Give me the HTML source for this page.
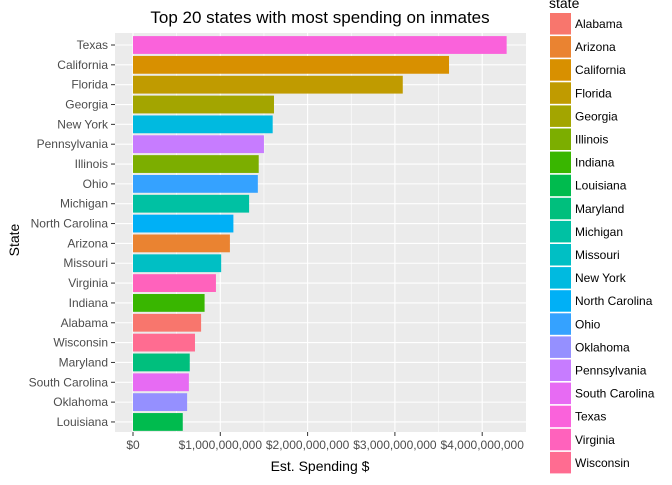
<!DOCTYPE html>
<html><head><meta charset="utf-8"><style>
body{margin:0;background:#fff;font-family:"Liberation Sans",Arial,sans-serif}
</style></head><body>
<svg id="chart" width="672" height="480" xmlns="http://www.w3.org/2000/svg" font-family="Liberation Sans, Arial, sans-serif">
<text x="320" y="23" text-anchor="middle" font-size="17" fill="#000">Top 20 states with most spending on inmates</text>
<rect x="115" y="33" width="411" height="399" fill="#ebebeb"/>
<g id="grid"></g><g id="bars"></g><g id="axes"></g><g id="legend"></g>
<text x="320" y="471" text-anchor="middle" font-size="14" fill="#000">Est. Spending $</text>
<text transform="translate(19,240) rotate(-90)" text-anchor="middle" font-size="14" fill="#000">State</text>
</svg>
<script>
const states=["Texas","California","Florida","Georgia","New York","Pennsylvania","Illinois","Ohio","Michigan","North Carolina","Arizona","Missouri","Virginia","Indiana","Alabama","Wisconsin","Maryland","South Carolina","Oklahoma","Louisiana"];
const spending=[4.28e9,3.62e9,3.09e9,1.615e9,1.60e9,1.50e9,1.44e9,1.43e9,1.33e9,1.15e9,1.11e9,1.01e9,0.95e9,0.82e9,0.78e9,0.71e9,0.65e9,0.64e9,0.62e9,0.57e9];
const legendStates=["Alabama","Arizona","California","Florida","Georgia","Illinois","Indiana","Louisiana","Maryland","Michigan","Missouri","New York","North Carolina","Ohio","Oklahoma","Pennsylvania","South Carolina","Texas","Virginia","Wisconsin"];
const legendColors=["#F8766D","#EA8331","#D89000","#C09B00","#A3A500","#7CAE00","#39B600","#00BB4E","#00BF7D","#00C1A3","#00BFC4","#00BAE0","#00B0F6","#35A2FF","#9590FF","#C77CFF","#E76BF3","#FA62DB","#FF62BC","#FF6C91"];
const xTicks=[0,1e9,2e9,3e9,4e9];
const xTickLabels=["$0","$1,000,000,000","$2,000,000,000","$3,000,000,000","$4,000,000,000"];
const NS="http://www.w3.org/2000/svg";
const x=v=>133+v*87.3/1e9;
const y=i=>45+i*19.84;
function mk(p,t,a){const e=document.createElementNS(NS,t);for(const k in a)e.setAttribute(k,a[k]);p.appendChild(e);return e;}
const grid=document.getElementById('grid'),bars=document.getElementById('bars'),axes=document.getElementById('axes'),leg=document.getElementById('legend');
for(let i=0;i<xTicks.length-1;i++){const m=mk(grid,'line',{x1:(x(xTicks[i])+x(xTicks[i+1]))/2,x2:(x(xTicks[i])+x(xTicks[i+1]))/2,y1:33,y2:432,stroke:'#fff','stroke-width':0.6});

}
xTicks.forEach((t,i)=>{const g=mk(grid,'line',{x1:x(t),x2:x(t),y1:33,y2:432,stroke:'#fff','stroke-width':1.1});


const tk=mk(axes,'line',{x1:x(t),x2:x(t),y1:432,y2:436,stroke:'#333'});


const tl=mk(axes,'text',{x:x(t),y:449,'text-anchor':'middle','font-size':12,fill:'#4d4d4d'});tl.textContent=xTickLabels[i];

});
states.forEach((s,i)=>{const g=mk(grid,'line',{x1:115,x2:526,y1:y(i),y2:y(i),stroke:'#fff','stroke-width':1.1});


const c=legendColors[legendStates.indexOf(s)];
const b=mk(bars,'rect',{x:x(0),y:y(i)-8.9,width:x(spending[i])-x(0),height:17.8,fill:c});


const tk=mk(axes,'line',{x1:111,x2:115,y1:y(i),y2:y(i),stroke:'#333'});


const tl=mk(axes,'text',{x:108,y:y(i)+4,'text-anchor':'end','font-size':12,fill:'#4d4d4d'});tl.textContent=s;

});
const lt=mk(leg,'text',{x:549,y:8,'font-size':14,fill:'#000'});lt.textContent='state';


legendStates.forEach((s,i)=>{const cy=24+i*23.1;
const r=mk(leg,'rect',{x:550,y:cy-11,width:21,height:21.5,fill:legendColors[i]});


const t=mk(leg,'text',{x:575,y:cy+4,'font-size':12,fill:'#000'});t.textContent=s;

});
</script>
</body></html>
